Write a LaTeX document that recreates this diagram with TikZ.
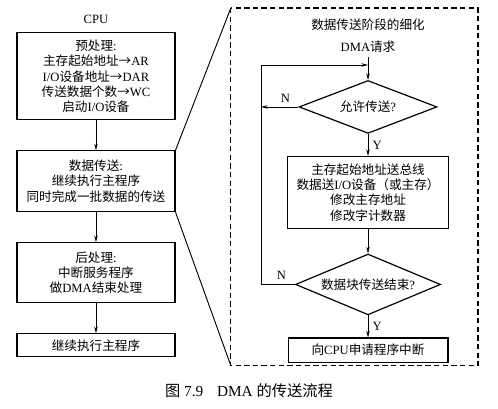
\documentclass[tikz,border=0pt]{standalone}
\usepackage{fontspec}
\setmainfont{Liberation Serif}
\newfontfamily\zh{Noto Sans CJK SC}
\newcommand{\zw}[1]{{\zh #1}}
\usetikzlibrary{positioning,arrows.meta,shapes.geometric}

\begin{document}
\begin{tikzpicture}[
			node distance=0.79cm,
			>={Stealth[length=5pt,width=2.6pt]},
			box/.style={
					draw,
					line width=0.9pt,
					align=center,
					minimum width=4.18cm,
					font=\fontsize{9.5}{11.5}\selectfont
				},
			decision/.style={
					draw,
					diamond,
					aspect=2.6,
					inner sep=0pt,
					line width=0.9pt,
					font=\fontsize{9.5}{11.5}\selectfont
				},
			lbl/.style={
					align=center,
					font=\fontsize{9.5}{11.5}\selectfont
				},
			frame/.style={
					draw,
					dashed,
					line width=0.9pt,
					dash pattern=on 4pt off 2.5pt
				}
		]

		\useasboundingbox (0,0) rectangle (13.18,-10.82);

		% CPU side
		\node[lbl] (cpu) at (2.54,-0.50) {CPU};

		\node[box,minimum height=2.30cm] (pre) at (2.54,-2.02)
		{\zw{预处理}:\\\zw{主存起始地址→}AR\\I/O\zw{设备地址→}DAR\\\zw{传送数据个数→}WC\\\zw{启动}I/O\zw{设备}};

		\node[box,minimum height=1.61cm,below=of pre] (xfer)
		{\zw{数据传送}:\\\zw{继续执行主程序}\\\zw{同时完成一批数据的传送}};

		\node[box,minimum height=1.59cm,below=of xfer] (post)
		{\zw{后处理}:\\\zw{中断服务程序}\\\zw{做}DMA\zw{结束处理}};

		\node[box,minimum height=0.61cm,below=of post] (resume)
		{\zw{继续执行主程序}};

		\draw[->] (pre)--(xfer);
		\draw[->] (xfer)--(post);
		\draw[->] (post)--(resume);

		% detail of the transfer stage
		\coordinate (ftl) at (6.11,-0.21);
		\coordinate (fbr) at (12.65,-9.68);
		\coordinate (fbl) at (ftl |- fbr);
		\draw[frame] (ftl) rectangle (fbr);

		\draw[line width=0.7pt] (xfer.north east)--(ftl);
		\draw[line width=0.7pt] (xfer.south east)--(fbl);

		\node[lbl] (title) at (9.74,-0.66) {\zw{数据传送阶段的细化}};
		\node[lbl] (dma) at (9.74,-1.24) {DMA\zw{请求}};

		\node[decision,minimum width=3.65cm,minimum height=1.40cm] (allow) at (9.74,-2.83)
		{\zw{允许传送}?};

		\node[box,minimum width=4.26cm,minimum height=1.91cm,below=0.58cm of allow] (move)
		{\zw{主存起始地址送总线}\\\zw{数据送}I/O\zw{设备（或主存）}\\\zw{修改主存地址}\\\zw{修改字计数器}};

		\node[decision,minimum width=3.84cm,minimum height=1.61cm,below=0.64cm of move] (done)
		{\zw{数据块传送结束}?};

		\node[box,minimum width=4.23cm,minimum height=0.64cm,below=0.58cm of done] (irq)
		{\zw{向}CPU\zw{申请程序中断}};

		\coordinate (join) at (9.74,-1.72);
		\coordinate (loop) at (6.91,-1.72);

		\draw[->] (dma)--(allow);
		\draw[->] (allow)-- node[lbl,right] {Y} (move);
		\draw[->] (move)--(done);
		\draw[->] (done)-- node[lbl,right] {Y} (irq);

		\draw[->] (allow.west)-- node[lbl,above,pos=0.35] {N} (allow.west -| loop);
		\draw[->] (done.west)-- node[lbl,above,pos=0.4] {N} (done.west -| loop)--(loop)--(join);

		\node[lbl,font=\fontsize{11.5}{13}\selectfont] (cap) at (6.59,-10.35)
		{\zw{图} 7.9\hspace{0.9em}DMA \zw{的传送流程}};

	\end{tikzpicture}
\end{document}
